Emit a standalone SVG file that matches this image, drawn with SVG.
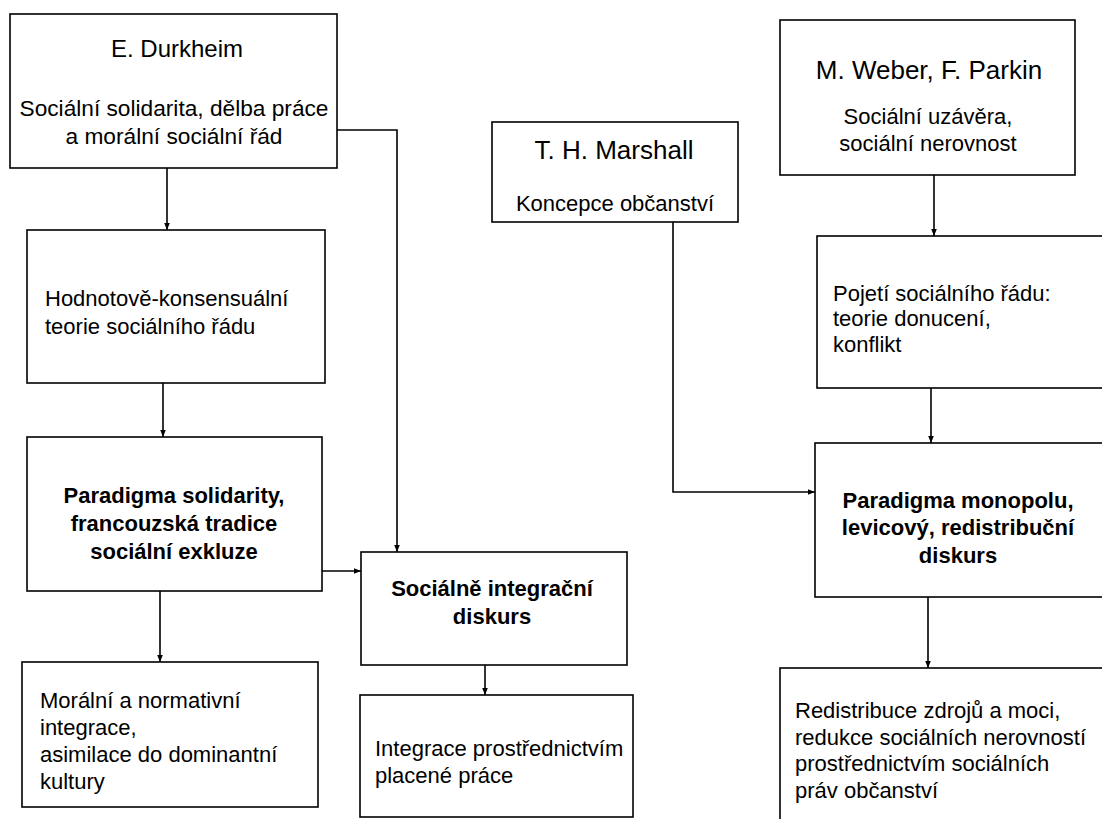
<svg xmlns="http://www.w3.org/2000/svg" width="1102" height="819" viewBox="0 0 1102 819">
<style>
.box{fill:#fff;stroke:#000;stroke-width:1.6}
text{font-family:"Liberation Sans",Arial,sans-serif;fill:#000;font-size:22px}
.t{font-size:24px}
.t2{font-size:26px}
.d{font-size:22.7px}
.b{font-weight:bold}
.c{text-anchor:middle}
.ln{fill:none;stroke:#000;stroke-width:1.6}
</style>
<defs>
<marker id="ah" viewBox="0 0 10 10" refX="10" refY="5" markerWidth="7" markerHeight="7" markerUnits="userSpaceOnUse" orient="auto">
<path d="M0,1 L10,5 L0,9 z" fill="#000"/>
</marker>
</defs>
<rect width="1102" height="819" fill="#fff"/>
<g id="connectors">
<path class="ln" d="M167,168 V230" marker-end="url(#ah)"/>
<path class="ln" d="M337,130 H397 V552" marker-end="url(#ah)"/>
<path class="ln" d="M163,383 V437" marker-end="url(#ah)"/>
<path class="ln" d="M322,571 H361" marker-end="url(#ah)"/>
<path class="ln" d="M160,591 V662" marker-end="url(#ah)"/>
<path class="ln" d="M485,665 V695" marker-end="url(#ah)"/>
<path class="ln" d="M673,222 V492 H815" marker-end="url(#ah)"/>
<path class="ln" d="M934,175 V236" marker-end="url(#ah)"/>
<path class="ln" d="M931,388 V443" marker-end="url(#ah)"/>
<path class="ln" d="M928,597 V668" marker-end="url(#ah)"/>
</g>
<g id="durkheim">
<rect class="box" x="10" y="14" width="327" height="154"/>
<text class="t c" x="177" y="57">E. Durkheim</text>
<text class="d c" x="174" y="116">Sociální solidarita, dělba práce</text>
<text class="d c" x="174" y="144">a morální sociální řád</text>
</g>
<g id="hodnotove">
<rect class="box" x="27" y="230" width="298" height="153"/>
<text x="45" y="306">Hodnotově-konsensuální</text>
<text x="45" y="334">teorie sociálního řádu</text>
</g>
<g id="paradigma-solidarity">
<rect class="box" x="27" y="437" width="295" height="154"/>
<text class="b c" x="174" y="503">Paradigma solidarity,</text>
<text class="b c" x="174" y="531">francouzská tradice</text>
<text class="b c" x="174" y="559">sociální exkluze</text>
</g>
<g id="socialne-integracni">
<rect class="box" x="361" y="552" width="266" height="113"/>
<text class="b c" x="492" y="596">Sociálně integrační</text>
<text class="b c" x="492" y="624">diskurs</text>
</g>
<g id="integrace">
<rect class="box" x="360" y="695" width="273" height="122"/>
<text x="375" y="756">Integrace prostřednictvím</text>
<text x="375" y="783">placené práce</text>
</g>
<g id="moralni">
<rect class="box" x="22" y="662" width="296" height="145"/>
<text x="40" y="708">Morální a normativní</text>
<text x="40" y="735">integrace,</text>
<text x="40" y="762">asimilace do dominantní</text>
<text x="40" y="789">kultury</text>
</g>
<g id="marshall">
<rect class="box" x="492" y="122" width="246" height="100"/>
<text class="t2 c" x="614" y="159">T. H. Marshall</text>
<text class="c" x="615" y="211">Koncepce občanství</text>
</g>
<g id="weber">
<rect class="box" x="780" y="20" width="295" height="155"/>
<text class="t2 c" x="929" y="79">M. Weber, F. Parkin</text>
<text class="c" x="928" y="124">Sociální uzávěra,</text>
<text class="c" x="928" y="151">sociální nerovnost</text>
</g>
<g id="pojeti">
<rect class="box" x="817" y="236" width="300" height="152"/>
<text x="833" y="301">Pojetí sociálního řádu:</text>
<text x="833" y="326">teorie donucení,</text>
<text x="833" y="352">konflikt</text>
</g>
<g id="paradigma-monopolu">
<rect class="box" x="815" y="443" width="300" height="154"/>
<text class="b c" x="958" y="508">Paradigma monopolu,</text>
<text class="b c" x="958" y="535">levicový, redistribuční</text>
<text class="b c" x="958" y="563">diskurs</text>
</g>
<g id="redistribuce">
<rect class="box" x="780" y="668" width="335" height="160"/>
<text x="795" y="718">Redistribuce zdrojů a moci,</text>
<text x="795" y="745">redukce sociálních nerovností</text>
<text x="795" y="771">prostřednictvím sociálních</text>
<text x="795" y="798">práv občanství</text>
</g>
</svg>
